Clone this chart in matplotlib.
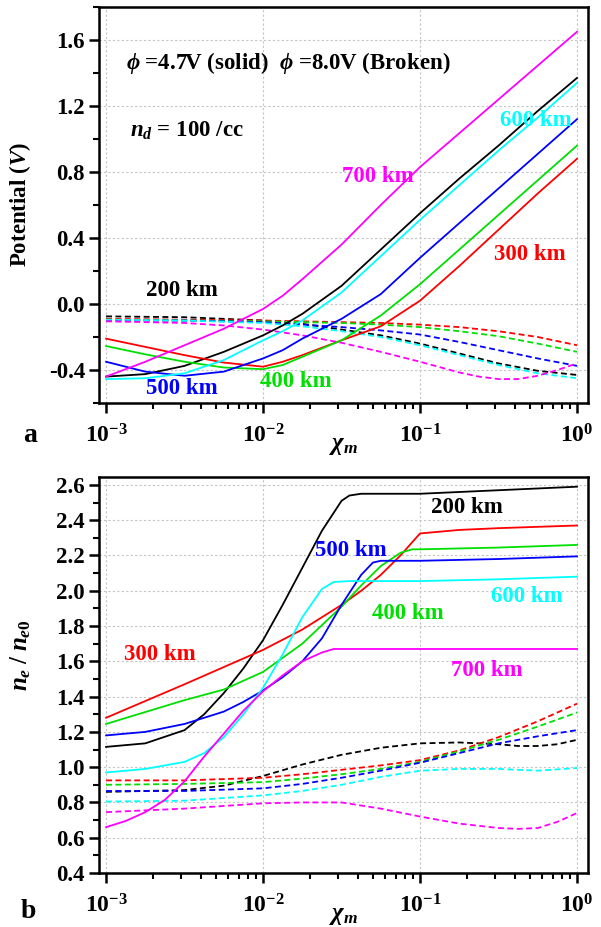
import numpy as np
import matplotlib
matplotlib.use("Agg")
import matplotlib.pyplot as plt
from matplotlib.ticker import FixedLocator, MultipleLocator, LogLocator, NullFormatter, FuncFormatter

plt.rcParams['font.family'] = ['Liberation Serif', 'DejaVu Serif']
plt.rcParams['font.weight'] = 'bold'
plt.rcParams['mathtext.fontset'] = 'custom'
plt.rcParams['mathtext.rm'] = 'Liberation Serif:bold'
plt.rcParams['mathtext.it'] = 'Liberation Serif:italic:bold'
plt.rcParams['mathtext.bf'] = 'Liberation Serif:bold'
plt.rcParams['axes.unicode_minus'] = False

# ---------------- data (x given as log10 of chi_m) ----------------
colors = {'200': 'black', '300': '#FF0000', '400': '#00E000', '500': '#0000FF',
          '600': '#00FFFF', '700': '#FF00FF'}

# Panel a, solid (phi = 4.7 V)
a_solid_logx = [-3, -2.75, -2.5, -2.25, -2, -1.875, -1.75, -1.5, -1.25, -1, -0.75, -0.5, -0.25, 0]
a_solid_200 = [-0.44, -0.425, -0.375, -0.29, -0.19, -0.13, -0.06, 0.11, 0.33, 0.55, 0.76, 0.96, 1.17, 1.37]
a_solid_300 = [-0.21, -0.26, -0.31, -0.355, -0.38, -0.35, -0.31, -0.22, -0.135, 0.02, 0.23, 0.45, 0.67, 0.88]
a_solid_400 = [-0.255, -0.305, -0.35, -0.385, -0.395, -0.37, -0.32, -0.22, -0.07, 0.12, 0.33, 0.54, 0.75, 0.96]
a_solid_500 = [-0.35, -0.41, -0.435, -0.41, -0.33, -0.28, -0.21, -0.09, 0.06, 0.28, 0.49, 0.70, 0.91, 1.12]
a_solid_600 = [-0.455, -0.45, -0.42, -0.34, -0.22, -0.165, -0.10, 0.07, 0.29, 0.51, 0.72, 0.93, 1.13, 1.34]
a_solid_700 = [-0.44, -0.35, -0.25, -0.15, -0.03, 0.05, 0.15, 0.36, 0.60, 0.83, 1.035, 1.24, 1.445, 1.65]

# Panel a, broken (phi = 8.0 V)
a_dash_logx = [-3, -2.5, -2, -1.75, -1.5, -1.25, -1, -0.75, -0.5, -0.25, 0]
a_dash_200 = [-0.075, -0.08, -0.10, -0.12, -0.155, -0.19, -0.24, -0.30, -0.36, -0.405, -0.43]
a_dash_300 = [-0.09, -0.095, -0.10, -0.105, -0.11, -0.115, -0.125, -0.14, -0.165, -0.20, -0.25]
a_dash_400 = [-0.095, -0.10, -0.105, -0.11, -0.115, -0.125, -0.14, -0.165, -0.195, -0.24, -0.29]
a_dash_500 = [-0.10, -0.10, -0.11, -0.125, -0.14, -0.16, -0.185, -0.23, -0.28, -0.33, -0.375]
a_dash_600 = [-0.095, -0.10, -0.115, -0.135, -0.165, -0.20, -0.25, -0.31, -0.37, -0.42, -0.45]
a_dash_700_logx = [-3, -2.5, -2.25, -2, -1.75, -1.5, -1.25, -1, -0.75, -0.625, -0.5, -0.375, -0.25, -0.125, 0]
a_dash_700 = [-0.105, -0.115, -0.13, -0.155, -0.19, -0.235, -0.29, -0.35, -0.415, -0.44, -0.455, -0.455, -0.435, -0.40, -0.36]

# Panel b, solid
b_solid_200_logx = [-3, -2.75, -2.5, -2.375, -2.25, -2.125, -2, -1.875, -1.75, -1.625, -1.5, -1.45, -1.375, -1.25, -1, -0.5, 0]
b_solid_200 = [1.115, 1.135, 1.21, 1.30, 1.42, 1.56, 1.72, 1.92, 2.13, 2.34, 2.51, 2.54, 2.55, 2.55, 2.55, 2.57, 2.59]
b_solid_300_logx = [-3, -2.5, -2, -1.75, -1.5, -1.375, -1.25, -1.125, -1, -0.75, -0.5, 0]
b_solid_300 = [1.28, 1.47, 1.665, 1.78, 1.92, 2.0, 2.09, 2.2, 2.325, 2.345, 2.355, 2.37]
b_solid_400_logx = [-3, -2.5, -2.25, -2, -1.75, -1.5, -1.375, -1.25, -1.125, -1.05, -1, -0.5, 0]
b_solid_400 = [1.245, 1.38, 1.44, 1.54, 1.70, 1.91, 2.03, 2.14, 2.215, 2.235, 2.235, 2.245, 2.26]
b_solid_500_logx = [-3, -2.75, -2.5, -2.25, -2.125, -2, -1.875, -1.75, -1.625, -1.5, -1.375, -1.3, -1.25, -1, -0.5, 0]
b_solid_500 = [1.18, 1.20, 1.245, 1.315, 1.37, 1.435, 1.51, 1.60, 1.73, 1.92, 2.09, 2.16, 2.17, 2.17, 2.18, 2.195]
b_solid_600_logx = [-3, -2.75, -2.5, -2.375, -2.25, -2.125, -2, -1.875, -1.75, -1.625, -1.55, -1.45, -1, -0.5, 0]
b_solid_600 = [0.97, 0.99, 1.03, 1.08, 1.17, 1.30, 1.45, 1.64, 1.85, 2.01, 2.05, 2.055, 2.055, 2.065, 2.08]
b_solid_700_logx = [-3, -2.875, -2.75, -2.625, -2.5, -2.375, -2.25, -2.125, -2, -1.875, -1.75, -1.625, -1.55, -1, 0]
b_solid_700 = [0.66, 0.695, 0.745, 0.815, 0.92, 1.06, 1.19, 1.32, 1.43, 1.52, 1.60, 1.65, 1.67, 1.67, 1.67]

# Panel b, broken
b_dash_logx = [-3, -2.5, -2, -1.75, -1.5, -1.25, -1, -0.75, -0.5, -0.25, 0]
b_dash_300 = [0.925, 0.925, 0.94, 0.96, 0.985, 1.01, 1.04, 1.095, 1.17, 1.26, 1.36]
b_dash_400 = [0.90, 0.905, 0.915, 0.935, 0.96, 0.99, 1.03, 1.09, 1.155, 1.23, 1.31]
b_dash_500 = [0.865, 0.865, 0.88, 0.905, 0.94, 0.98, 1.025, 1.08, 1.135, 1.175, 1.21]
b_dash_600 = [0.805, 0.81, 0.84, 0.865, 0.90, 0.945, 0.98, 0.99, 0.99, 0.98, 0.995]
b_dash_200_logx = [-3, -2.5, -2.25, -2, -1.75, -1.5, -1.25, -1, -0.75, -0.5, -0.375, -0.25, -0.125, 0]
b_dash_200 = [0.86, 0.87, 0.895, 0.95, 1.015, 1.07, 1.11, 1.135, 1.14, 1.13, 1.12, 1.12, 1.13, 1.155]
b_dash_700_logx = [-3, -2.5, -2, -1.75, -1.5, -1.25, -1, -0.75, -0.5, -0.375, -0.25, -0.125, 0]
b_dash_700 = [0.745, 0.765, 0.795, 0.80, 0.80, 0.765, 0.72, 0.68, 0.655, 0.65, 0.655, 0.69, 0.74]

# label texts and positions (log10 chi, value)
alt_labels = ['200 km', '300 km', '400 km', '500 km', '600 km', '700 km']
a_label_pos = {'200': (-2.515, 0.08), '300': (-0.30, 0.30), '400': (-1.79, -0.47),
               '500': (-2.52, -0.51), '600': (-0.26, 1.115), '700': (-1.27, 0.775)}
b_label_pos = {'200': (-0.70, 2.47), '300': (-2.66, 1.64), '400': (-1.08, 1.87),
               '500': (-1.44, 2.23), '600': (-0.32, 1.97), '700': (-0.575, 1.55)}

# ---------------- figure ----------------
fig = plt.figure(figsize=(6.01, 9.27), dpi=100)
W, H = 601, 927
ax1 = fig.add_axes([99 / W, 1 - 403 / H, 489 / W, 396 / H])
ax2 = fig.add_axes([99 / W, 1 - 873 / H, 489 / W, 396 / H])

LW = 1.3
DASH = (3.3, 1.9)
LABEL_FS = 16.5

def X(lx):
    return 10.0 ** np.asarray(lx, dtype=float)

keys = ['200', '300', '400', '500', '600', '700']
a_solid = dict(zip(keys, [a_solid_200, a_solid_300, a_solid_400, a_solid_500, a_solid_600, a_solid_700]))
a_dash = {'200': (a_dash_logx, a_dash_200), '300': (a_dash_logx, a_dash_300),
          '400': (a_dash_logx, a_dash_400), '500': (a_dash_logx, a_dash_500),
          '600': (a_dash_logx, a_dash_600), '700': (a_dash_700_logx, a_dash_700)}
b_solid = {'200': (b_solid_200_logx, b_solid_200), '300': (b_solid_300_logx, b_solid_300),
           '400': (b_solid_400_logx, b_solid_400), '500': (b_solid_500_logx, b_solid_500),
           '600': (b_solid_600_logx, b_solid_600), '700': (b_solid_700_logx, b_solid_700)}
b_dash = {'200': (b_dash_200_logx, b_dash_200), '300': (b_dash_logx, b_dash_300),
          '400': (b_dash_logx, b_dash_400), '500': (b_dash_logx, b_dash_500),
          '600': (b_dash_logx, b_dash_600), '700': (b_dash_700_logx, b_dash_700)}

for k in keys:
    c = colors[k]
    lx, v = a_dash[k]
    ax1.plot(X(lx), v, color=c, lw=LW, dashes=DASH)
    lx, v = b_dash[k]
    ax2.plot(X(lx), v, color=c, lw=LW, dashes=DASH)
for k in keys:
    c = colors[k]
    ax1.plot(X(a_solid_logx), a_solid[k], color=c, lw=LW)
    lx, v = b_solid[k]
    ax2.plot(X(lx), v, color=c, lw=LW)

for k, lab in zip(keys, alt_labels):
    lx, y = a_label_pos[k]
    ax1.text(10 ** lx, y, lab, color=colors[k], fontsize=LABEL_FS, fontweight='bold',
             ha='center', va='center')
    lx, y = b_label_pos[k]
    ax2.text(10 ** lx, y, lab, color=colors[k], fontsize=LABEL_FS, fontweight='bold',
             ha='center', va='center')

ax1.text(10 ** -2.87, 1.46, r'$\phi$' + ' =4.7V (solid)  ' + r'$\phi$' + ' =8.0V (Broken)',
         fontsize=16.5, fontweight='bold', ha='left', va='center')
ax1.text(10 ** -2.85, 1.05, r'$n_d$' + ' = 100 /cc', fontsize=16.5, fontweight='bold',
         ha='left', va='center')

def dec_fmt(v, pos):
    e = int(round(np.log10(v)))
    return r'$\mathbf{10^{%d}}$' % e

for ax, ylim, major, minor in [(ax1, (-0.6, 1.8), 0.4, 0.2), (ax2, (0.4, 2.645), 0.2, 0.1)]:
    ax.set_xscale('log')
    ax.set_xlim(10 ** -3.045, 10 ** 0.07)
    ax.set_ylim(*ylim)
    ax.xaxis.set_major_locator(FixedLocator([1e-3, 1e-2, 1e-1, 1e0]))
    ax.xaxis.set_minor_locator(LogLocator(base=10, subs=np.arange(2, 10), numticks=20))
    ax.xaxis.set_minor_formatter(NullFormatter())
    ax.xaxis.set_major_formatter(FuncFormatter(dec_fmt))
    ax.yaxis.set_major_locator(MultipleLocator(major))
    ax.yaxis.set_minor_locator(MultipleLocator(minor))
    ax.yaxis.set_major_formatter(FuncFormatter(lambda v, p: '%.1f' % v))
    for s in ax.spines.values():
        s.set_linewidth(1.8)
    ax.tick_params(which='major', direction='out', length=7, width=1.8,
                   labelsize=16.5, pad=3, top=False, right=False)
    ax.tick_params(which='minor', direction='out', length=4, width=1.5,
                   top=False, right=False)
    ax.tick_params(axis='x', which='major', pad=8, labelsize=17)
    ax.grid(True, which='major', color='#c4c4c4', lw=0.8, ls=(0, (2, 2)))
    ax.set_axisbelow(True)
    ax.set_xlabel(r'$\chi_m$', fontsize=18, labelpad=-9)

ax1.set_ylabel(r'Potential ($V$)', fontsize=16.5, fontweight='bold')
ax2.set_ylabel(r'$n_e\;/\;n_{e0}$', fontsize=18)
ax1.yaxis.set_label_coords(-0.135, 0.5)
ax2.yaxis.set_label_coords(-0.135, 0.55)

fig.text(30 / W, 1 - 435 / H, 'a', fontsize=20, fontweight='bold', ha='center', va='center')
fig.text(28 / W, 1 - 912 / H, 'b', fontsize=20, fontweight='bold', ha='center', va='center')

fig.savefig('out.png', dpi=100)
